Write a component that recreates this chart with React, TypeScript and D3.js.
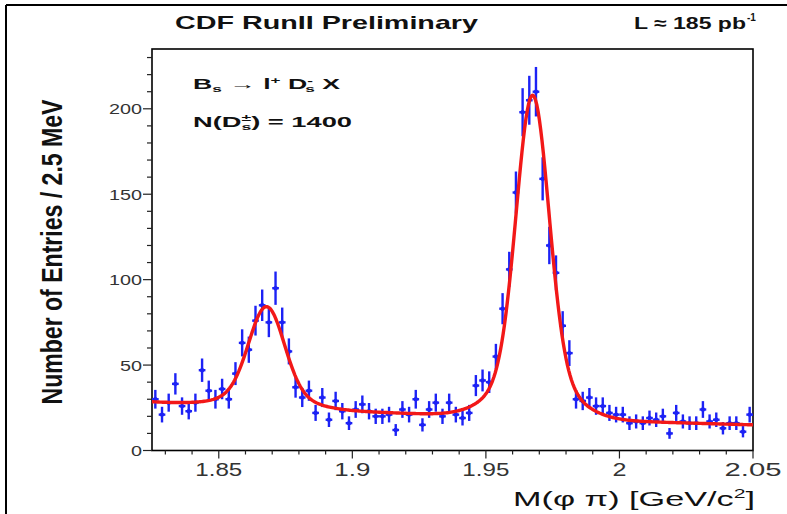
import React from 'react';
import * as d3 from 'd3';

// Histogram bin centres, M(phi pi) in GeV/c^2 (2.5 MeV bins)
const massBins = [
  1.82625, 1.82875, 1.83125, 1.83375, 1.83625, 1.83875, 1.84125, 1.84375, 1.84625, 1.84875,
  1.85125, 1.85375, 1.85625, 1.85875, 1.86125, 1.86375, 1.86625, 1.86875, 1.87125, 1.87375,
  1.87625, 1.87875, 1.88125, 1.88375, 1.88625, 1.88875, 1.89125, 1.89375, 1.89625, 1.89875,
  1.90125, 1.90375, 1.90625, 1.90875, 1.91125, 1.91375, 1.91625, 1.91875, 1.92125, 1.92375,
  1.92625, 1.92875, 1.93125, 1.93375, 1.93625, 1.93875, 1.94125, 1.94375, 1.94625, 1.94875,
  1.95125, 1.95375, 1.95625, 1.95875, 1.96125, 1.96375, 1.96625, 1.96875, 1.97125, 1.97375,
  1.97625, 1.97875, 1.98125, 1.98375, 1.98625, 1.98875, 1.99125, 1.99375, 1.99625, 1.99875,
  2.00125, 2.00375, 2.00625, 2.00875, 2.01125, 2.01375, 2.01625, 2.01875, 2.02125, 2.02375,
  2.02625, 2.02875, 2.03125, 2.03375, 2.03625, 2.03875, 2.04125, 2.04375, 2.04625, 2.04875,
];

// Entries per bin
const entries = [
  30, 21, 28, 39, 26, 23, 28, 47, 35, 30,
  36, 30, 45, 63, 59, 76, 85, 75, 95, 75,
  58, 37, 31, 35, 22, 31, 18, 29, 23, 16,
  24, 27, 23, 20, 20, 21, 12, 24, 21, 30,
  15, 24, 28, 20, 28, 21, 19, 22, 38, 41,
  40, 55, 83, 106, 151, 198, 205, 210, 159, 120,
  104, 73, 57, 30, 29, 31, 26, 26, 22, 21,
  21, 16, 17, 16, 19, 18, 20, 10, 22, 17,
  16, 16, 24, 17, 18, 13, 16, 16, 11, 21,
];

const binWidth = 0.0025;

// Fit: exponential background + two double-Gaussian peaks (D+ and Ds)
const bkgParams = [28.5, 2.85]; // amplitude at x0, slope
const peakMeans = [1.8679, 1.9675];
const peakCoreAmps = [50, 162];
const peakCoreSigmas = [0.0065, 0.006];
const peakWideAmps = [9, 27];
const peakWideSigmas = [0.013, 0.013];

const xDomain = [1.825, 2.05];
const yDomain = [0, 235];
const xTicks = [1.85, 1.9, 1.95, 2.0, 2.05];
const xTickLabels = ['1.85', '1.9', '1.95', '2', '2.05'];
const xTickWidths = [47, 36, 47, 14, 57];
const yTicks = [0, 50, 100, 150, 200];
const yTickLabels = ['0', '50', '100', '150', '200'];
const yTickWidths = [11, 22, 33, 33, 33];

const fitFn = (m: number) => {
  let v = bkgParams[0] * Math.exp(-bkgParams[1] * (m - xDomain[0]));
  for (let k = 0; k < peakMeans.length; k++) {
    const d = m - peakMeans[k];
    v += peakCoreAmps[k] * Math.exp(-0.5 * (d / peakCoreSigmas[k]) ** 2);
    v += peakWideAmps[k] * Math.exp(-0.5 * (d / peakWideSigmas[k]) ** 2);
  }
  return v;
};

export default function App() {
  const W = 787;
  const H = 514;
  const L = 152, R = 753, T = 49, B = 450.5;
  const x = d3.scaleLinear().domain(xDomain).range([L, R]);
  const y = d3.scaleLinear().domain(yDomain).range([B, T]);

  const fitSamples = d3.range(xDomain[0], xDomain[1] + 1e-9, 0.0005);
  const fitPath = d3.line<number>().x((m) => x(m)).y((m) => y(fitFn(m)))(fitSamples) || '';

  const xMinor = d3.range(183, 206).map((v) => v / 100);
  const yMinor = d3.range(0, 235, 10);

  const blue = '#1c22f5';
  const font = "'Liberation Sans', Arial, Helvetica, sans-serif";

  return (
    <svg width={W} height={H} style={{ position: 'absolute', left: 0, top: 0, background: '#fff' }}>
      <rect x={0} y={0} width={W} height={H} fill="#fff" />
      {/* outer border */}
      <line x1={6} y1={5} x2={W} y2={5} stroke="#000" strokeWidth={2} />
      <line x1={6} y1={5} x2={6} y2={H} stroke="#000" strokeWidth={2} />

      {/* header */}
      <text x={175} y={29} fontFamily={font} fontWeight="bold" fontSize={19} fill="#111"
        textLength={303} lengthAdjust="spacingAndGlyphs">CDF RunII Preliminary</text>
      <text x={634} y={29} fontFamily={font} fontWeight="bold" fontSize={17} fill="#111"
        textLength={112} lengthAdjust="spacingAndGlyphs">L ≈ 185 pb</text>
      <text x={747} y={21} fontFamily={font} fontWeight="bold" fontSize={10} fill="#111">-1</text>

      {/* frame */}
      <rect x={L} y={T} width={R - L} height={B - T} fill="none" stroke="#000" strokeWidth={1.6} />

      {/* x ticks */}
      {xMinor.map((m, i) => {
        const major = Math.abs(Math.round(m * 100) % 5) === 0;
        return (
          <line key={'xm' + i} x1={x(m)} x2={x(m)} y1={B} y2={B + (major ? 8 : 4)} stroke="#222" strokeWidth={1.2} />
        );
      })}
      {xTicks.map((t, i) => (
        <text key={'xt' + i} x={x(t) - xTickWidths[i] / 2} y={476} fontFamily={font} fontSize={19} fill="#333"
          textLength={xTickWidths[i]} lengthAdjust="spacingAndGlyphs">{xTickLabels[i]}</text>
      ))}

      {/* y ticks */}
      {yMinor.map((v, i) => (
        <line key={'ym' + i} x1={L} x2={L - (v % 50 === 0 ? 9 : 5)} y1={y(v)} y2={y(v)} stroke="#222" strokeWidth={1.2} />
      ))}
      {yTicks.map((t, i) => (
        <text key={'yt' + i} x={142 - yTickWidths[i]} y={y(t) + 5.5} fontFamily={font} fontSize={15} fill="#333"
          textLength={yTickWidths[i]} lengthAdjust="spacingAndGlyphs">{yTickLabels[i]}</text>
      ))}

      {/* axis titles */}
      <text transform="translate(62,252) rotate(-90)" textAnchor="middle"
        fontFamily="'Liberation Sans Narrow', 'Liberation Sans', Arial, sans-serif" fontWeight="bold" fontSize={30} fill="#111"
        textLength={305} lengthAdjust="spacingAndGlyphs">Number of Entries / 2.5 MeV</text>
      <text x={513} y={506} fontFamily={font} fontSize={21} fill="#111" textLength={242} lengthAdjust="spacingAndGlyphs">
        M(φ π) [GeV/c<tspan dy={-8} fontSize={13}>2</tspan><tspan dy={8}>]</tspan>
      </text>

      {/* annotations */}
      <text x={193} y={89} fontFamily={font} fontWeight="bold" fontSize={14} fill="#111" textLength={147} lengthAdjust="spacingAndGlyphs">
        B<tspan dy={3} fontSize={9}>s</tspan><tspan dy={-3}> → l</tspan><tspan dy={-5} fontSize={9}>+</tspan><tspan dy={5}> D</tspan><tspan dy={-5} fontSize={9}>-</tspan><tspan dy={8} dx={-4} fontSize={9}>s</tspan><tspan dy={-3}> X</tspan>
      </text>
      <text x={193} y={127} fontFamily={font} fontWeight="bold" fontSize={14} fill="#111" textLength={159} lengthAdjust="spacingAndGlyphs">
        N(D<tspan dy={-6} fontSize={9}>±</tspan><tspan dy={9} dx={-5} fontSize={9}>s</tspan><tspan dy={-3}>) = 1400</tspan>
      </text>

      {/* data */}
      <g stroke={blue} strokeWidth={2.4} fill={blue}>
        {massBins.map((m, i) => {
          const n = entries[i];
          const e = Math.sqrt(n);
          const cx = x(m);
          const cy = y(n);
          return (
            <g key={'p' + i}>
              <line x1={x(m - binWidth / 2)} x2={x(m + binWidth / 2)} y1={cy} y2={cy} />
              <line x1={cx} x2={cx} y1={y(n - e)} y2={y(n + e)} />
              <circle cx={cx} cy={cy} r={2.2} stroke="none" />
            </g>
          );
        })}
      </g>

      {/* fit */}
      <path d={fitPath} fill="none" stroke="#f21818" strokeWidth={3.4} strokeLinejoin="round" />
    </svg>
  );
}
